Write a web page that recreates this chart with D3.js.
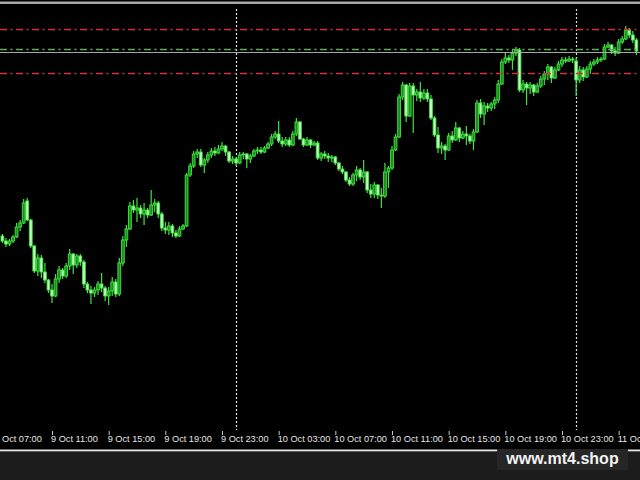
<!DOCTYPE html>
<html><head><meta charset="utf-8">
<script src="https://cdn.jsdelivr.net/npm/d3@7"></script>
<style>html,body{margin:0;padding:0;background:#000;overflow:hidden}</style>
</head><body>
<svg id="c" width="640" height="480"></svg>
<script>
// M15 candles, 9 Oct 07:30 onward (price in points)
const openP = [
194,189,186,189,193,203,207,229,210,184,
159,172,158,150,140,134,151,160,154,164,
176,165,174,168,146,140,137,140,146,142,
134,139,148,136,167,190,201,224,220,222,
216,220,215,225,227,216,202,200,204,197,
194,201,204,255,264,276,278,265,270,275,
279,277,281,284,278,269,271,267,275,276,
271,274,279,280,278,282,286,293,296,289,
286,290,285,296,308,291,285,290,285,287,
272,276,274,272,273,267,261,258,250,246,
255,260,253,258,240,236,245,235,234,258,
262,280,293,333,345,314,344,335,338,332,
337,331,312,295,282,284,280,294,290,302,
292,296,294,289,298,327,316,324,322,326,
330,346,368,372,370,377,380,340,346,342,
345,338,344,351,356,363,352,360,366,370,
369,371,369,350,360,353,361,366,368,370,
371,383,385,379,377,388,391,400,395,390];
const closeP = [
189,186,189,193,203,207,227,210,184,159,
172,158,150,140,134,151,160,154,164,176,
165,174,168,146,140,137,140,146,142,134,
139,148,136,167,190,201,224,220,222,216,
220,215,225,227,216,202,200,204,197,194,
201,204,255,264,276,278,265,270,275,279,
277,281,284,278,269,271,267,275,276,271,
274,279,280,278,282,286,293,296,289,286,
290,285,296,308,291,285,290,285,287,272,
276,274,272,273,267,261,258,250,246,255,
260,253,258,240,236,245,235,234,258,262,
280,293,333,345,314,344,335,338,332,337,
331,312,295,282,284,280,294,290,302,292,
296,294,289,298,327,316,324,322,326,330,
346,368,372,370,377,380,340,346,342,345,
338,344,351,356,363,352,360,366,370,369,
371,370,350,360,353,361,366,368,370,371,
383,385,379,377,388,391,400,395,390,379];
const highP = [
196,192,191,195,207,210,231,232,211,185,
176,175,167,151,146,156,164,162,167,181,
177,176,176,170,148,144,143,149,157,144,
143,153,151,172,194,205,228,230,232,225,
227,222,240,231,229,218,208,208,206,200,
204,206,257,267,279,281,281,272,278,282,
283,285,288,285,279,274,273,278,278,277,
276,281,283,283,284,288,296,299,309,293,
293,293,299,312,309,292,293,291,289,289,
278,279,277,275,274,268,264,259,253,257,
264,262,270,259,246,248,246,242,267,264,
284,296,336,348,346,347,347,341,348,341,
341,335,314,303,288,286,297,299,308,303,
299,304,296,301,330,331,328,327,328,333,
350,371,378,375,380,383,382,350,348,348,
346,347,354,359,366,364,363,369,373,373,
374,373,372,364,363,364,369,371,373,373,
386,388,386,383,391,394,404,402,399,392];
const lowP = [
187,183,184,187,192,199,206,209,182,157,
154,152,147,137,127,133,147,151,152,160,
156,162,164,142,137,126,133,135,138,129,
125,134,133,134,164,183,200,217,208,212,
205,212,214,218,212,199,196,195,193,192,
193,200,203,253,262,272,263,257,267,272,
274,276,279,274,267,266,264,266,271,262,
267,273,276,276,277,281,284,291,287,283,
284,283,284,294,290,283,284,282,284,270,
269,271,268,268,265,259,256,248,244,244,
249,250,247,237,232,232,231,222,232,242,
260,279,292,330,308,313,297,329,328,330,
328,310,293,277,276,270,279,287,289,288,
291,285,286,280,297,312,305,318,319,321,
327,345,366,367,360,374,338,337,325,336,
334,337,342,345,350,347,351,359,363,367,
368,367,334,347,349,352,356,364,366,368,
370,382,376,374,376,386,390,392,387,375];

const firstCandle = "9 Oct 07:30";
const tickLabels = ["9 Oct 07:00","9 Oct 11:00","9 Oct 15:00","9 Oct 19:00","9 Oct 23:00",
  "10 Oct 03:00","10 Oct 07:00","10 Oct 11:00","10 Oct 15:00","10 Oct 19:00","10 Oct 23:00","11 Oct 03:00"];
const separatorLabels = ["10 Oct 00:00","11 Oct 00:00"];
const levelPrices = [401, 381, 357];
const levelKinds = ["red","green","red"];
const bidPrice = 378;
const watermark = "www.mt4.shop";

const parse = s => d3.timeParse("%Y %d %b %H:%M")("2023 " + s);
const fmt = d3.timeFormat("%-d %b %H:%M");

const W = 640, H = 480, plotTop = 5, plotBottom = 430;
const svg = d3.select("#c");

const t0 = parse(firstCandle);
const candles = openP.map((o, i) => ({
  t: d3.timeMinute.offset(t0, 15 * i),
  o, h: highP[i], l: lowP[i], c: closeP[i]
}));

const x = d3.scaleTime()
  .domain([parse("9 Oct 11:00"), parse("10 Oct 11:00")])
  .range([52, 392]);
const y = d3.scaleLinear().domain([0, 430]).range([430, 0]);

svg.append("rect").attr("width", W).attr("height", H).attr("fill", "#000");
// top frame line
svg.append("rect").attr("x", 0).attr("y", 1.5).attr("width", W).attr("height", 2.5).attr("fill", "#a8a8a8");

svg.append("defs").append("clipPath").attr("id", "plot")
  .append("rect").attr("x", 0).attr("y", plotTop).attr("width", W).attr("height", plotBottom - plotTop);
const g = svg.append("g").attr("clip-path", "url(#plot)");

// period separators
g.selectAll("line.sep").data(separatorLabels.map(parse)).join("line")
  .attr("class", "sep")
  .attr("x1", d => Math.round(x(d)) + 0.5).attr("x2", d => Math.round(x(d)) + 0.5)
  .attr("y1", plotTop + 4).attr("y2", plotBottom)
  .attr("stroke", "#e0e0e0").attr("stroke-width", 1.2).attr("stroke-dasharray", "2,2");

// candles
const bodyW = 2.8;
const cg = g.selectAll("g.cd").data(candles).join("g").attr("class", "cd");
cg.append("line")
  .attr("x1", d => x(d.t)).attr("x2", d => x(d.t))
  .attr("y1", d => y(d.h)).attr("y2", d => y(d.l))
  .attr("stroke", "#3ee63e").attr("stroke-width", 1.2);
cg.append("rect")
  .attr("x", d => x(d.t) - bodyW / 2)
  .attr("y", d => y(Math.max(d.o, d.c)))
  .attr("width", bodyW)
  .attr("height", d => Math.max(1, Math.abs(y(d.o) - y(d.c))))
  .attr("fill", d => d.c >= d.o ? "#1f8a1f" : "#c4fac4")
  .attr("stroke", "#3ee63e").attr("stroke-width", 0.9);

// horizontal levels
const levelColor = {red: "#d03434", green: "#5cb05c"};
g.selectAll("line.lvl").data(levelPrices).join("line")
  .attr("class", "lvl")
  .attr("x1", 0).attr("x2", W)
  .attr("y1", d => Math.round(y(d)) + 0.5).attr("y2", d => Math.round(y(d)) + 0.5)
  .attr("stroke", (d, i) => levelColor[levelKinds[i]])
  .attr("stroke-width", 1.5)
  .attr("stroke-dasharray", "7,3.5,2,3.5");
g.append("line")
  .attr("x1", 0).attr("x2", W)
  .attr("y1", Math.round(y(bidPrice)) + 0.5).attr("y2", Math.round(y(bidPrice)) + 0.5)
  .attr("stroke", "#a8a8a8").attr("stroke-width", 1);

// time axis
const axis = d3.axisBottom(x)
  .tickValues(tickLabels.map(parse))
  .tickFormat(fmt)
  .tickSize(4).tickSizeOuter(0);
const ax = svg.append("g").attr("transform", `translate(0,${plotBottom + 1})`).call(axis);
ax.select(".domain").remove();
ax.selectAll(".tick line").attr("stroke", "#c8c8c8");
ax.selectAll(".tick text")
  .attr("text-anchor", "start").attr("x", -1.5).attr("y", 4.5).attr("dy", "0.71em")
  .attr("fill", "#e6e6e6")
  .style("font-family", "'Liberation Sans', Arial, sans-serif")
  .style("font-size", "9.2px");

// bottom strip
svg.append("rect").attr("x", 0).attr("y", 451).attr("width", W).attr("height", H - 451).attr("fill", "#1c1c1c");
svg.append("rect").attr("x", 0).attr("y", 449.5).attr("width", W).attr("height", 1.8).attr("fill", "#e8e8e8");

// watermark
svg.append("rect").attr("x", 497).attr("y", 449).attr("width", 131).attr("height", 21)
  .attr("fill", "#262626");
svg.append("text").attr("x", 562.5).attr("y", 463.5).attr("text-anchor", "middle")
  .attr("fill", "#f2f2f2")
  .style("font-family", "'Liberation Sans', Arial, sans-serif")
  .style("font-weight", "bold").style("font-size", "16px")
  .text(watermark);
</script>
</body></html>
